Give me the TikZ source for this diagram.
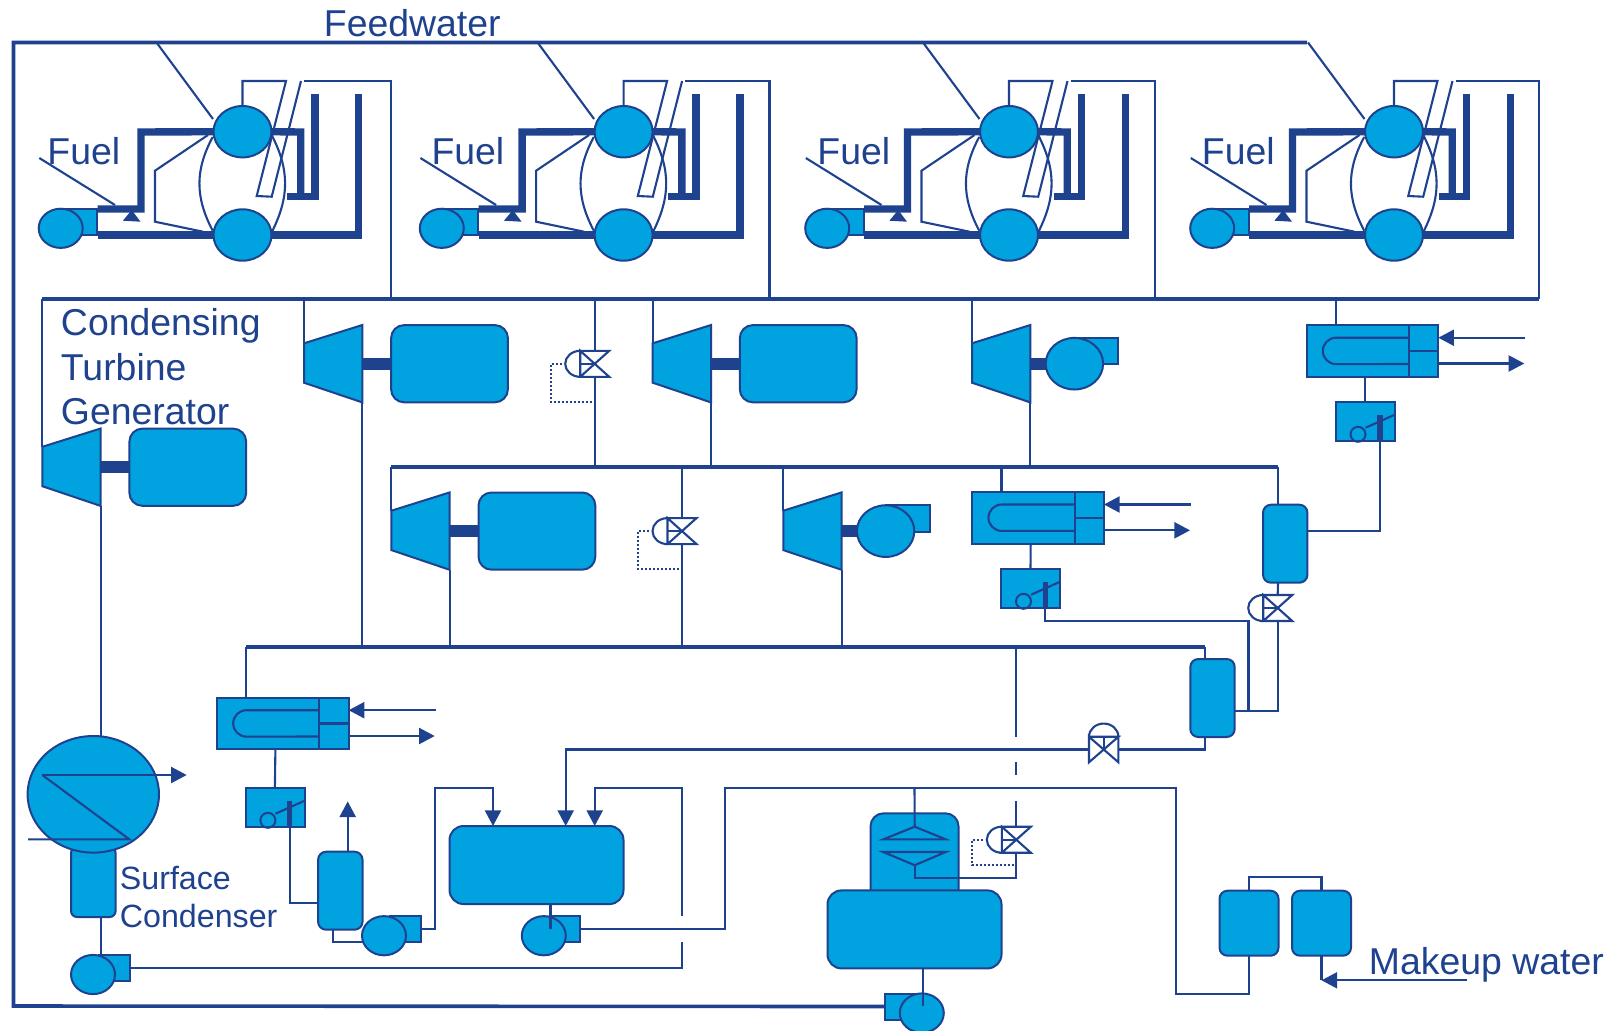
\documentclass[tikz,border=0pt]{standalone}
\usepackage{xcolor}
\usepackage{fontspec}
\setmainfont{Liberation Sans}
\usepackage{tikz}
\usetikzlibrary{shapes,arrows.meta,positioning,calc}
\definecolor{pipeblue}{RGB}{31,66,143}
\definecolor{skyfill}{RGB}{0,163,224}

\begin{document}
\begin{tikzpicture}[
    x=0.5pt, y=-0.5pt,
    pipe/.style={draw=pipeblue, line width=1.05pt},
    rail/.style={draw=pipeblue, line width=1.8pt},
    heavy/.style={draw=pipeblue, line width=3.7pt},
    shaft/.style={draw=pipeblue, line width=6pt},
    flow/.style={pipe, -{Triangle[length=7.8pt, width=8pt]}},
    sense/.style={pipe, dash pattern=on 1pt off 1pt},
    equip/.style={draw=pipeblue, fill=skyfill, line width=1pt},
    drum/.style={equip, ellipse, inner sep=0pt, outer sep=0pt},
    vessel/.style={equip, rectangle, rounded corners=4pt, inner sep=0pt, outer sep=0pt},
    tall/.style={vessel, minimum width=22.2pt, minimum height=39pt},
    wide/.style={vessel, rounded corners=7pt, minimum width=87pt, minimum height=39pt},
    genbox/.style={vessel, rounded corners=6.5pt, minimum width=58.4pt, minimum height=38.6pt},
    caption/.style={text=pipeblue, inner sep=0pt, font=\fontsize{18.7}{22.3}\selectfont},
    pump/.pic={
        \path[equip] (6,-19.5) rectangle (36.6,6.5);
        \node[drum, minimum width=22pt, minimum height=19.6pt] (-body) at (0,0) {};
        \coordinate (-out) at (36.6,-6.5);
    },
    fan/.pic={
        \path[equip] (0,-25.8) rectangle (44,0.5);
        \node[drum, minimum width=28.7pt, minimum height=25.8pt] (-body) at (0,0) {};
    },
    turbine/.pic={
        \path[equip] (0,-20.4) -- (58.3,-38.7) -- (58.3,38.7) -- (0,19) -- cycle;
        \coordinate (-in) at (0,-20.4);
        \coordinate (-out) at (58.3,38.7);
        \coordinate (-shaft) at (58.3,0);
    },
    valve/.pic={
        \draw[pipe] (-14.5,-13) -- (14.5,-13) -- (-14.5,13) -- (14.5,13) -- (-14.5,-13) -- (-14.5,13);
        \draw[pipe] (-14.5,0) -- (0,0);
        \draw[pipe] (-14.5,-13) arc[start angle=90, end angle=270, x radius=7.5pt, y radius=6.5pt];
        \coordinate (-top) at (0,-13);
        \coordinate (-bot) at (0,13);
        \coordinate (-tap) at (-33,0);
    },
    heater/.pic={
        \path[equip] (0.4,0) rectangle (131.8,51.7);
        \draw[pipe] (102.6,0) -- (102.6,51.7);
        \draw[pipe] (102.6,26) -- (131.8,26);
        \draw[pipe] (102.6,12.7) -- (29.7,12.7) arc[start angle=90, end angle=270, radius=6.6pt] -- (102.6,39);
        \coordinate (-top) at (29.5,0);
        \coordinate (-drain) at (58.7,51.7);
        \coordinate (-src) at (219,12.7);
        \coordinate (-snk) at (218,38.5);
        \draw[flow] (-src) -- (132,12.7);
        \draw[flow] (132,38.5) -- (-snk);
    },
    trap/.pic={
        \path[equip] (0,0) rectangle (58.9,39.6);
        \draw[pipeblue, line width=2.7pt] (44,13.6) -- (44,38.3);
        \draw[pipe] (29.8,26) -- (58.2,13.3);
        \node[circle, draw=pipeblue, line width=1pt, inner sep=0pt, minimum size=7.5pt] (-ball) at (22.2,32.6) {};
        \coordinate (-top) at (29.2,0);
        \coordinate (-out) at (44,39.6);
    },
    boiler/.pic={
        \node[drum, minimum width=29pt, minimum height=25.7pt] (-top) at (0,0) {};
        \node[drum, minimum width=29pt, minimum height=25.7pt] (-low) at (0,103.3) {};
        \pic (-fp) at (-181.8,96.6) {pump};
        % Water and steam tubes
        \draw[heavy] (-145,77.3) -- (-101.5,77.3) -- (-101.5,0.3) -- (-top.west);
        \draw[heavy] (-145,103.3) -- (-low.west);
        \draw[heavy] (-top.east) -- (58.2,0.3) -- (58.2,65);
        \draw[heavy] (44.5,65) -- (72.5,65) -- (72.5,-37.7);
        \draw[heavy] (-low.east) -- (116.2,103.3) -- (116.2,-37.7);
        \fill[pipeblue] (-110.8,78.3) -- (-119.6,89) -- (-102,90) -- cycle;
        % Thin tubes
        \coordinate (-feed) at (-29.5,-12.7);
        \draw[pipe] (-86,-89.2) -- (-feed);
        \draw[pipe] (-203.2,26.3) -- (-127.5,73.3);
        \draw[pipe] (-34.5,3.3) -- (-87.5,39) -- (-87.5,90) -- (-39.5,100);
        \draw[pipe] (-29.8,5.3) .. controls (-47.5,38.3) and (-47.5,65.3) .. (-29.8,99);
        \draw[pipe] (29.2,3.3) .. controls (47,38) and (47,65) .. (29.5,100);
        \draw[pipe] (-top.north) -- (0,-50.7) -- (43.5,-50.7) -- (14.2,64.3) -- (29.2,65) -- (58.5,-50.7);
        \coordinate (-exit) at (61.5,-50.7);
        \node[caption, anchor=base west] (-fuel) at (\fuelx,33) {Fuel};
    }
]

\useasboundingbox (0,0) rectangle (1611,1030);

% Rails
\coordinate (feedNE) at (1307,42.5);
\coordinate (feedNW) at (13.5,42.5);
\coordinate (feedSW) at (13.5,1006);
\coordinate (hpW) at (42.3,299);
\coordinate (hpE) at (1539,299);
\coordinate (ipW) at (391.4,466.7);
\coordinate (ipE) at (1278,466.7);
\coordinate (lpW) at (246.3,646.7);
\coordinate (lpE) at (1205,646.7);
\draw[rail] (hpW) -- (hpE);
\draw[rail] (ipW) -- (ipE);
\draw[rail] (lpW) -- (lpE);

% Boilers
\foreach \name/\cx/\xexit/\fuelx in {A/242.5/391.4/-195.5, B/623.6/769.5/-192.5, C/1009/1155/-192, D/1394/1539/-192.5} {
    \pic (boiler\name) at (\cx,131.7) {boiler};
    \draw[pipe] (boiler\name-exit) -| (\xexit,299);
}

% Turbines
\pic (turbC) at (42.3,467.2) {turbine};
\pic (turbA) at (304,363.7) {turbine};
\pic (turbB) at (652.7,363.7) {turbine};
\pic (turbD) at (972,363.7) {turbine};
\pic (turbE) at (391.4,531.1) {turbine};
\pic (turbF) at (783.3,531.1) {turbine};
\node[genbox, right=14.4pt of turbC-shaft] (genC) {};
\node[genbox, right=14.4pt of turbA-shaft] (genA) {};
\node[genbox, right=14.4pt of turbB-shaft] (genB) {};
\node[genbox, right=14.4pt of turbE-shaft] (genE) {};
\pic (fanD) at (1074.4,363.7) {fan};
\pic (fanF) at (885.6,531.1) {fan};
\draw[shaft] (turbC-shaft) -- (genC.west);
\draw[shaft] (turbA-shaft) -- (genA.west);
\draw[shaft] (turbB-shaft) -- (genB.west);
\draw[shaft] (turbE-shaft) -- (genE.west);
\draw[shaft] (turbD-shaft) -- (fanD-body.west);
\draw[shaft] (turbF-shaft) -- (fanF-body.west);
\draw[pipe] (hpW) -- (turbC-in);
\foreach \t in {turbA, turbB, turbD} {
    \draw[pipe] (\t-in |- hpW) -- (\t-in);
}
\foreach \t in {turbE, turbF} {
    \draw[pipe] (\t-in |- ipW) -- (\t-in);
    \draw[pipe] (\t-out) -- (\t-out |- lpW);
}
\draw[pipe] (turbA-out) -- (turbA-out |- lpW);
\draw[pipe] (turbB-out) -- (turbB-out |- ipW);
\draw[pipe] (turbD-out) -- (turbD-out |- ipW);

% Extraction valves
\pic (valveA) at (594.7,363.8) {valve};
\pic (valveB) at (682,531.1) {valve};
\pic (valveC) at (1016.3,839.7) {valve};
\pic (valveD) at (1277.7,608) {valve};
\pic[rotate=-90, xscale=.88, yscale=1.13] (valveE) at (1103.7,749.5) {valve};
\draw[pipe] (valveA-top |- hpW) -- (valveA-top);
\draw[pipe] (valveA-bot) -- (valveA-bot |- ipW);
\draw[pipe] (valveB-top |- ipW) -- (valveB-top);
\draw[pipe] (valveB-bot) -- (valveB-bot |- lpW);
\draw[sense] (valveA-tap) -- ++(-11,0) -- ++(0,38.2) -- ++(44,0);
\draw[sense] (valveB-tap) -- ++(-11,0) -- ++(0,38.2) -- ++(44,0);
\draw[sense] (valveC-tap) -- ++(-11,0) -- ++(0,25.6) -- ++(44,0);

% Closed heaters and traps
\pic (heatA) at (1306.3,325) {heater};
\pic (heatB) at (972,491.8) {heater};
\pic (heatC) at (216.7,697.5) {heater};
\pic (trapA) at (1335.8,401.7) {trap};
\pic (trapB) at (1001.3,568.7) {trap};
\pic (trapC) at (245.7,787.7) {trap};
\draw[pipe] (heatA-top |- hpW) -- (heatA-top);
\draw[pipe] (heatB-top |- ipW) -- (heatB-top);
\draw[pipe] (heatC-top |- lpW) -- (heatC-top);
\draw[pipe] (heatA-drain) -- (trapA-top);
\draw[pipe] (heatB-drain) -- (trapB-top);
\draw[pipe] (heatC-drain) -- (trapC-top);

% Vessels
\node[tall] (tankA) at (1285.2,543.7) {};
\node[tall] (tankB) at (1212.5,698) {};
\node[tall] (tankD) at (340.3,890.7) {};
\node[wide] (tankC) at (536.5,865) {};
\node[vessel, minimum width=29.5pt, minimum height=32.5pt] (mkupA) at (1249,923.2) {};
\node[vessel, minimum width=29.5pt, minimum height=32.5pt] (mkupB) at (1321.5,923.2) {};
\draw[pipe] (ipE) -- (ipE |- tankA.north);
\draw[pipe] (lpE) -- (lpE |- tankB.north);
\draw[pipe] (trapA-out) |- ([yshift=6.5pt]tankA.east);
\draw[pipe] (ipE |- tankA.south) -- (valveD-top);
\coordinate (tie) at (1248.5,711);
\draw[pipe] (valveD-bot) |- ([yshift=-6.5pt]tankB.east);
\draw[pipe] (trapB-out) -- ++(0,12.7) -| (tie);
\draw[pipe] (lpE |- tankB.south) |- (valveE-top);

% Deaerator
\node[vessel, rounded corners=6.5pt, minimum width=44pt, minimum height=46pt] (tower) at (914.5,859.3) {};
\node[wide] (deaer) at (914.5,929.4) {};
\draw[pipe] (883.3,839.3) -- (914.7,826.7) -- (945.7,839.3) -- cycle;
\draw[pipe] (883.3,852) -- (914.7,865.2) -- (945.7,852) -- cycle;

% Condenser
\node[vessel, rounded corners=3pt, minimum width=22.3pt, minimum height=35pt] (well) at (93.3,882) {};
\node[drum, minimum width=65.7pt, minimum height=58.3pt] (cond) at (93.3,794.3) {};
\coordinate (coilA) at (42.3,775);
\coordinate (coilB) at (129.3,839.3);
\coordinate (coilC) at (28,839.3);
\coordinate (coilD) at (186.7,775);
\draw[flow] (coilA) -- (coilD);
\draw[pipe] (coilA) -- (coilB) -- (coilC);
\draw[pipe] (turbC-out) -- (turbC-out |- cond.north);

% Pumps
\pic (pumpA) at (93,974.5) {pump};
\pic (pumpB) at (384,935.7) {pump};
\pic (pumpC) at (543.8,935.7) {pump};
\pic[xscale=-1] (pumpD) at (921.8,1013) {pump};
\draw[pipe] ([xshift=3.7pt]well.south) -- ++(0,38);
\draw[pipe] ([xshift=7pt]tankC.south) -- ++(0,25.3);
\draw[pipe] ([xshift=4.4pt]deaer.south) -- ++(0,38);
\draw[pipe] ([xshift=-3.5pt]tankD.south) |- ([shift={(1pt,-3.3pt)}]pumpB-body.west);
\draw[pipe] (trapC-out) |- ([yshift=-6.3pt]tankD.west);
\draw[flow] ([xshift=3.7pt]tankD.north) -- ++(0,-50.3);

% Feedwater line
\draw[rail] (feedNE) -- (feedNW) -- (feedSW) -- (pumpD-out);

% Lines into the tank
\coordinate (lineA) at (435,787.7);
\coordinate (lineB) at (681.6,787.7);
\coordinate (gapA) at (681.6,916);
\coordinate (gapB) at (681.6,942.3);
\draw[flow] (pumpB-out) -| (lineA) -| ([xshift=-21.75pt]tankC.north);
\draw[flow] (gapA) -- (lineB) -| ([xshift=29.1pt]tankC.north);
\draw[flow] (valveE-bot) -| ([xshift=14.6pt]tankC.north);
\draw[pipe] (gapB) |- (pumpA-out);

% Makeup line
\coordinate (mkN) at (725.3,787.7);
\coordinate (mkE) at (1176.4,787.7);
\coordinate (mkS) at (1176.4,993.7);
\coordinate (mkIn) at (1466.7,980.3);
\draw[pipe] (pumpC-out) -| (mkN) -- (mkE) -- (mkS) -| (mkupA.south);
\draw[pipe] (mkN -| tower.north) -- (914.7,826.7);
\draw[pipe] (mkupA.north) |- (1285,877.4) -| (mkupB.north);
\draw[pipe] (mkupB.south) -- (1321.5,980.3);
\draw[flow] (mkIn) -- (1321.5,980.3);

% Spray line and dashed tap
\draw[pipe] (valveC-top |- lpW) -- ++(0,90);
\draw[pipe] ($(valveC-top)+(0,-64.7)$) -- ++(0,12.7);
\draw[pipe] ($(valveC-top)+(0,-25.7)$) -- (valveC-top);
\draw[pipe] (valveC-bot) |- (914.7,877.7) -- (914.7,865.2);

% Labels
\node[caption, anchor=base west] (feedtxt) at (323.5,36) {Feedwater};
\node[caption, anchor=north west, align=left] (condtxt) at (60.6,308) {Condensing\\Turbine\\Generator};
\node[caption, anchor=north west, align=left, font=\fontsize{16.1}{19}\selectfont] (surftxt) at (119.5,865.5) {Surface\\Condenser};
\node[caption, anchor=base west] (mkuptxt) at (1368.5,974.5) {Makeup water};

\end{tikzpicture}
\end{document}
